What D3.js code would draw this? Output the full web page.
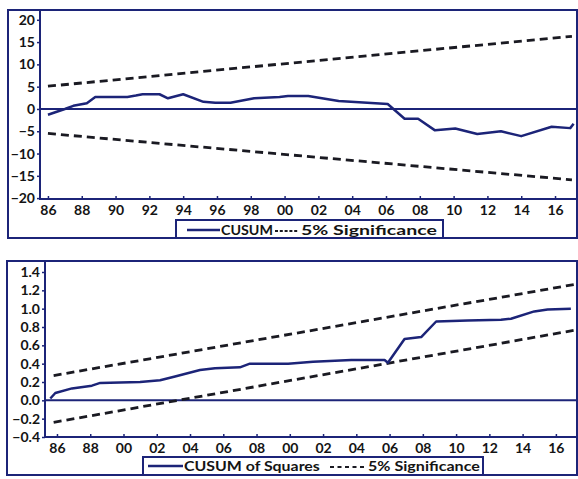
<!DOCTYPE html>
<html>
<head>
<meta charset="utf-8">
<script src="https://cdn.jsdelivr.net/npm/d3@7"></script>
<style>
  body { margin: 0; background: #fff; }
  svg text { font-family: Lato, "Open Sans", sans-serif; font-weight: bold; fill: #141414; }
</style>
</head>
<body>
<div id="chart"></div>
<script>
// --- CUSUM panel data ---
const cusumYears = [1986, 1987, 1987.5, 1988.3, 1988.8, 1990.7, 1991.2, 1991.6, 1992.6, 1993.1, 1994, 1995.2, 1995.9, 1996.8, 1998.2, 1999.7, 2000.2, 2001.4, 2003.2, 2006.1, 2007.1, 2007.9, 2008.9, 2010.1, 2011.4, 2012.8, 2014, 2015.8, 2016.9, 2017.1];
const cusumValues = [-1.3, 0, 0.7, 1.3, 2.7, 2.7, 3.0, 3.3, 3.3, 2.4, 3.3, 1.6, 1.4, 1.4, 2.4, 2.7, 2.9, 2.9, 1.8, 1.1, -2.2, -2.2, -4.8, -4.4, -5.6, -5.0, -6.1, -4.0, -4.3, -3.3];
const cusumBoundYears = [1986, 2017];
const cusumUpper = [5.1, 16.3];
const cusumLower = [-5.5, -15.9];
const cusumYTicks = [20, 15, 10, 5, 0, -5, -10, -15, -20];
const cusumXLabels = ['86', '88', '90', '92', '94', '96', '98', '00', '02', '04', '06', '08', '10', '12', '14', '16'];

// --- CUSUM of squares panel data ---
const sqYears = [1985.6, 1985.9, 1986.9, 1988.1, 1988.6, 1991, 1992.2, 1993.1, 1994.6, 1995.5, 1997, 1997.6, 1999.9, 2001.4, 2003.7, 2005.7, 2005.9, 2006.9, 2007.9, 2008.8, 2010.7, 2012.7, 2013.3, 2014.7, 2015.5, 2016.9];
const sqValues = [0.02, 0.08, 0.13, 0.16, 0.19, 0.2, 0.22, 0.26, 0.33, 0.35, 0.36, 0.4, 0.4, 0.42, 0.44, 0.44, 0.41, 0.67, 0.69, 0.86, 0.87, 0.88, 0.89, 0.97, 0.99, 1.0];
const sqBoundYears = [1985.8, 2017.3];
const sqUpper = [0.27, 1.27];
const sqLower = [-0.24, 0.77];
const sqYTicks = [1.4, 1.2, 1.0, 0.8, 0.6, 0.4, 0.2, 0.0, -0.2, -0.4];
const sqXLabels = ['86', '88', '00', '02', '04', '06', '08', '00', '02', '04', '06', '08', '10', '12', '14', '16'];

const tickYears = d3.range(1986, 2017, 2);

const WIDTH = 578;
const HEIGHT = 479;
const NAVY = '#1c2478';
const DASH = '#1a1a22';

const svg = d3.select('#chart')
    .append('svg')
    .attr('width', WIDTH)
    .attr('height', HEIGHT);

// text stretched horizontally to span [x0, x1]
function fitText(parent, str, x0, x1, yMid) {
    const holder = parent.append('g');
    const t = holder.append('text')
        .attr('x', 0)
        .attr('y', 0)
        .attr('dy', '0.36em')
        .attr('font-size', 14)
        .text(str);
    const w = t.node().getComputedTextLength();
    holder.attr('transform', `translate(${x0},${yMid}) scale(${(x1 - x0) / w},1)`);
}

function drawPanel(opt) {
    const x = d3.scaleLinear().domain(opt.xDomain).range([opt.left, opt.right]);
    const y = d3.scaleLinear().domain(opt.yDomain).range([opt.bottom, opt.top]);

    const g = svg.append('g');

    // outer frame
    g.append('path')
        .attr('d', `M${opt.frameLeft},${opt.top} V${opt.frameBottom} H${opt.right} V${opt.top} Z`)
        .attr('fill', 'none')
        .attr('stroke', NAVY)
        .attr('stroke-width', 2);

    // plot box
    g.append('rect')
        .attr('x', opt.left)
        .attr('y', opt.top)
        .attr('width', opt.right - opt.left)
        .attr('height', opt.bottom - opt.top)
        .attr('fill', 'none')
        .attr('stroke', NAVY)
        .attr('stroke-width', 2);

    // y axis
    const yAxis = g.append('g')
        .attr('transform', `translate(${opt.left},0)`)
        .call(d3.axisLeft(y).tickValues(opt.yTicks).tickSize(3).tickPadding(2)
            .tickFormat(opt.yFormat));
    yAxis.select('.domain').remove();
    yAxis.selectAll('line').attr('stroke', NAVY).attr('stroke-width', 1.5);
    yAxis.selectAll('text').attr('font-size', 14).style('font-family', 'Lato, sans-serif');

    // x axis, ticks pointing up into the plot
    const xAxis = g.append('g')
        .attr('transform', `translate(0,${opt.bottom})`)
        .call(d3.axisBottom(x).tickValues(tickYears).tickSize(-3).tickPadding(6)
            .tickFormat((d, i) => opt.xLabels[i]));
    xAxis.select('.domain').remove();
    xAxis.selectAll('line').attr('stroke', NAVY).attr('stroke-width', 1.5);
    xAxis.selectAll('text').attr('font-size', 14).style('font-family', 'Lato, sans-serif');

    // zero line
    g.append('line')
        .attr('x1', opt.left)
        .attr('x2', opt.right)
        .attr('y1', y(0))
        .attr('y2', y(0))
        .attr('stroke', NAVY)
        .attr('stroke-width', 2);

    const line = d3.line().x(d => x(d[0])).y(d => y(d[1]));

    // significance bounds
    [opt.upper, opt.lower].forEach(vals => {
        g.append('path')
            .datum(opt.boundYears.map((yr, i) => [yr, vals[i]]))
            .attr('d', line)
            .attr('fill', 'none')
            .attr('stroke', DASH)
            .attr('stroke-width', 2.8)
            .attr('stroke-dasharray', '8,5');
    });

    // main series
    g.append('path')
        .datum(opt.years.map((yr, i) => [yr, opt.values[i]]))
        .attr('d', line)
        .attr('fill', 'none')
        .attr('stroke', NAVY)
        .attr('stroke-width', 2.5)
        .attr('stroke-linejoin', 'round');

    // legend
    const lg = g.append('g').attr('transform', `translate(${opt.legendX},${opt.legendY})`);
    lg.append('rect')
        .attr('x', 0)
        .attr('y', 0)
        .attr('width', opt.legendW)
        .attr('height', opt.frameBottom - opt.legendY)
        .attr('fill', '#fff')
        .attr('stroke', NAVY)
        .attr('stroke-width', 2);
    const midY = opt.legendTextY - opt.legendY;
    const L = opt.legendParts; // [sampleStart, sampleEnd, nameEnd, dotStart, dotEnd, sigStart, sigEnd]
    lg.append('line')
        .attr('x1', L[0]).attr('x2', L[1])
        .attr('y1', midY).attr('y2', midY)
        .attr('stroke', NAVY).attr('stroke-width', 2.5);
    fitText(lg, opt.name, L[1] + 1, L[2], midY);
    lg.append('line')
        .attr('x1', L[3]).attr('x2', L[4])
        .attr('y1', midY + 1).attr('y2', midY + 1)
        .attr('stroke', DASH).attr('stroke-width', 2.2)
        .attr('stroke-dasharray', opt.dotDash);
    fitText(lg, '5% Significance', L[5], L[6], midY);
}

drawPanel({
    xDomain: [1985.53, 2017.3], yDomain: [-20.2, 22.2],
    left: 40, right: 577, top: 10, bottom: 199,
    frameLeft: 8, frameBottom: 238,
    yTicks: cusumYTicks, yFormat: d3.format('d'), xLabels: cusumXLabels,
    years: cusumYears, values: cusumValues,
    boundYears: cusumBoundYears, upper: cusumUpper, lower: cusumLower,
    legendX: 176, legendY: 220, legendW: 267, legendTextY: 230,
    legendParts: [11, 44, 97, 99, 123, 125, 261],
    dotDash: '3,1.8', name: 'CUSUM'
});

drawPanel({
    xDomain: [1985.28, 2017.27], yDomain: [-0.4, 1.52],
    left: 45, right: 577, top: 261, bottom: 437,
    frameLeft: 7, frameBottom: 475,
    yTicks: sqYTicks, yFormat: d3.format('.1f'), xLabels: sqXLabels,
    years: sqYears, values: sqValues,
    boundYears: sqBoundYears, upper: sqUpper, lower: sqLower,
    legendX: 143, legendY: 457, legendW: 340, legendTextY: 466,
    legendParts: [5, 40, 177, 187, 222, 225, 337],
    dotDash: '4,3.5', name: 'CUSUM of Squares'
});
</script>
</body>
</html>
